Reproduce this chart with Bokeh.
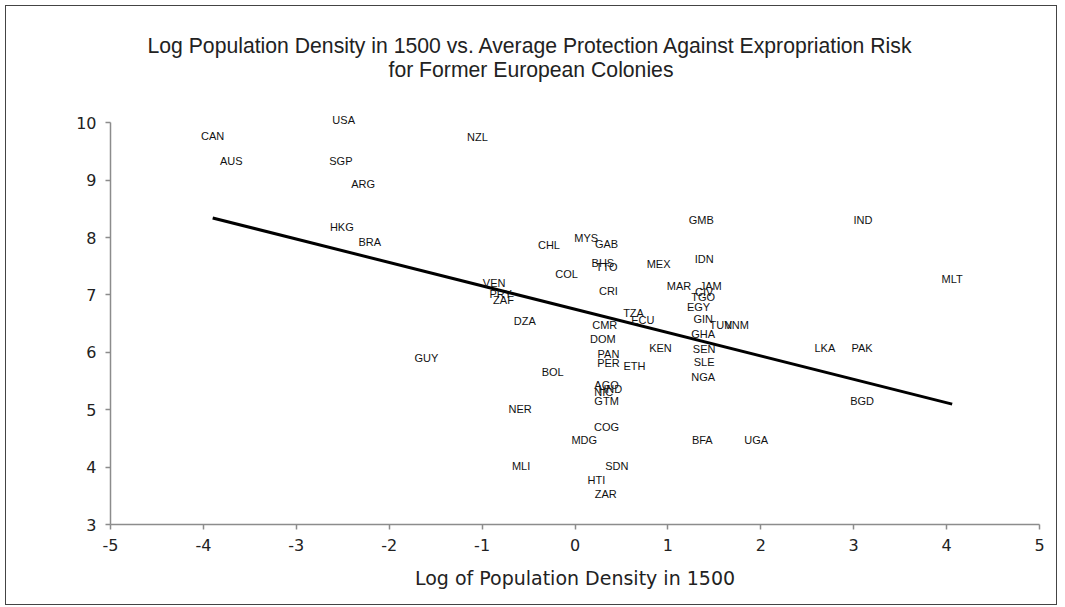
import numpy as np
from bokeh.plotting import figure
from bokeh.models import ColumnDataSource, Title, FixedTicker, Range1d
from bokeh.core.properties import value
from bokeh.embed import file_html
from bokeh.resources import INLINE

codes = ["CAN", "AUS", "USA", "SGP", "ARG", "NZL", "HKG", "BRA", "CHL", "MYS",
         "GAB", "BHS", "TTO", "MEX", "GMB", "IDN", "COL", "VEN", "PRY", "ZAF",
         "CRI", "MAR", "JAM", "CIV", "TGO", "EGY", "DZA", "TZA", "ECU", "CMR",
         "GIN", "TUN", "VNM", "GHA", "DOM", "KEN", "SEN", "PAN", "PER", "ETH",
         "SLE", "NGA", "BOL", "AGO", "HND", "NIC", "GTM", "NER", "COG", "MDG",
         "BFA", "UGA", "MLI", "SDN", "HTI", "ZAR", "IND", "MLT", "LKA", "PAK",
         "BGD", "GUY"]
log_density_1500 = [-3.90, -3.70, -2.49, -2.52, -2.28, -1.05, -2.51, -2.21, -0.28, 0.12,
                    0.34, 0.30, 0.34, 0.90, 1.36, 1.39, -0.09, -0.87, -0.80, -0.77,
                    0.36, 1.12, 1.46, 1.39, 1.38, 1.33, -0.54, 0.63, 0.73, 0.32,
                    1.38, 1.57, 1.74, 1.38, 0.30, 0.92, 1.39, 0.36, 0.36, 0.64,
                    1.39, 1.38, -0.24, 0.34, 0.38, 0.31, 0.34, -0.59, 0.34, 0.10,
                    1.37, 1.95, -0.58, 0.45, 0.23, 0.33, 3.10, 4.06, 2.69, 3.09,
                    3.09, -1.60]
expropriation = [9.76, 9.34, 10.04, 9.33, 8.93, 9.75, 8.19, 7.93, 7.87, 7.99,
                 7.88, 7.56, 7.48, 7.54, 8.31, 7.62, 7.37, 7.20, 7.02, 6.91,
                 7.06, 7.15, 7.15, 7.05, 6.97, 6.79, 6.54, 6.68, 6.57, 6.48,
                 6.58, 6.47, 6.47, 6.32, 6.24, 6.07, 6.05, 5.97, 5.82, 5.76,
                 5.83, 5.57, 5.65, 5.43, 5.36, 5.31, 5.16, 5.02, 4.70, 4.48,
                 4.48, 4.48, 4.02, 4.02, 3.77, 3.54, 8.31, 7.28, 6.07, 6.07,
                 5.16, 5.90]
x_ticks = [-5, -4, -3, -2, -1, 0, 1, 2, 3, 4, 5]
x_tick_labels = ["-5", "-4", "-3", "-2", "-1", "0", "1", "2", "3", "4", "5"]
y_ticks = [3, 4, 5, 6, 7, 8, 9, 10]
y_tick_labels = ["3", "4", "5", "6", "7", "8", "9", "10"]
title_line1 = "Log Population Density in 1500 vs. Average Protection Against Expropriation Risk"
title_line2 = "for Former European Colonies"
x_label = "Log of Population Density in 1500"

xs = np.array(log_density_1500)
ys = np.array(expropriation)
slope, intercept = np.polyfit(xs, ys, 1)
fit_x = [float(xs.min()), float(xs.max())]
fit_y = [slope * v + intercept for v in fit_x]

p = figure(width=1052, height=600, output_backend="svg", toolbar_location=None,
           x_range=Range1d(-5, 5), y_range=Range1d(3, 10.3),
           min_border_left=104, min_border_right=19, min_border_top=99, min_border_bottom=82)
p.styles = {"border": "1.5px solid #444444", "margin-left": "5px", "margin-top": "5px"}
p.outline_line_color = None
p.xgrid.visible = False
p.ygrid.visible = False
p.background_fill_color = "white"
p.border_fill_color = "white"

font_ticks = "DejaVu Sans"
for ax in (p.xaxis[0], p.yaxis[0]):
    ax.axis_line_color = "#8c8c8c"
    ax.axis_line_width = 1.5
    ax.major_tick_line_color = "#8c8c8c"
    ax.major_tick_line_width = 1.5
    ax.major_tick_out = 5
    ax.major_tick_in = 0
    ax.minor_tick_line_color = None
    ax.major_label_text_font = font_ticks
    ax.major_label_text_font_size = "16px"
    ax.major_label_text_color = "#222222"
    ax.major_label_standoff = 9
p.xaxis.ticker = FixedTicker(ticks=x_ticks)
p.yaxis.ticker = FixedTicker(ticks=y_ticks)
p.xaxis.major_label_overrides = dict(zip(x_ticks, x_tick_labels))
p.yaxis.major_label_overrides = dict(zip(y_ticks, y_tick_labels))
p.xaxis.bounds = (x_ticks[0], x_ticks[-1])
p.yaxis.bounds = (y_ticks[0], y_ticks[-1])
p.xaxis.axis_label = x_label
p.xaxis.axis_label_text_font = font_ticks
p.xaxis.axis_label_text_font_size = "19px"
p.xaxis.axis_label_text_font_style = "normal"
p.xaxis.axis_label_text_color = "#222222"
p.xaxis.axis_label_standoff = 13

title_font = "Liberation Sans"
# thin spacer panel between the frame and the two title lines
p.add_layout(Title(text=" ", text_font_size="1px", standoff=22), "above")
p.add_layout(Title(text=title_line2, align="left", offset=278, text_font=title_font,
                   text_font_size="21.2px", text_font_style="normal", text_color="#222222",
                   standoff=0), "above")
p.add_layout(Title(text=title_line1, align="left", offset=37, text_font=title_font,
                   text_font_size="21.2px", text_font_style="normal", text_color="#222222",
                   standoff=-2), "above")

p.line(fit_x, fit_y, line_color="black", line_width=3)

src = ColumnDataSource(dict(x=log_density_1500, y=expropriation, code=codes))
p.text(x="x", y="y", text="code", source=src, text_align="center", text_baseline="middle",
       text_font_size="11px", text_font=value("Liberation Sans"), text_color="#111111")

open("out.html", "w").write(file_html(p, INLINE))
